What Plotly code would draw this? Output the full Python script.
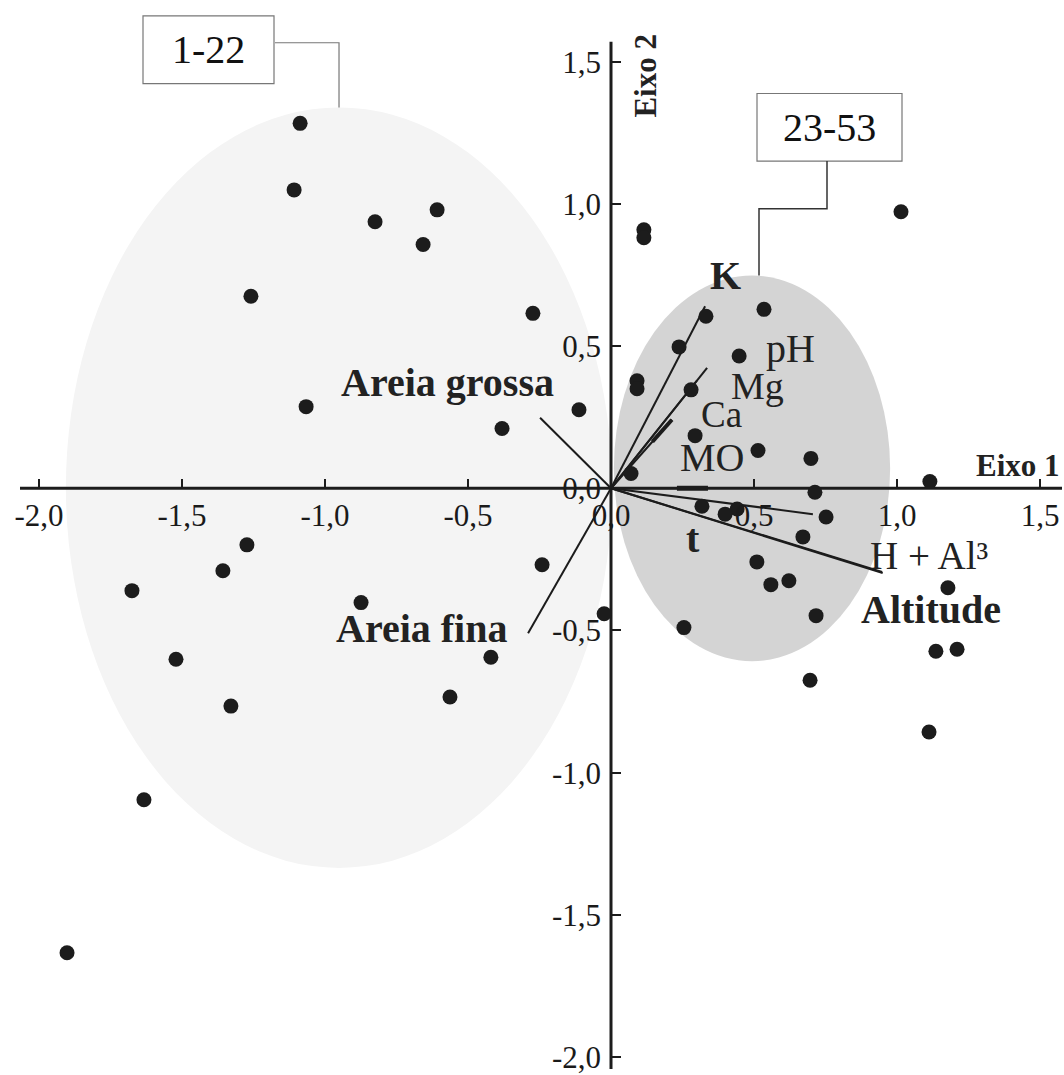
import plotly.graph_objects as go

# ---------------- data ----------------
# observations 1-22 (Eixo 1, Eixo 2)
g1_x = [-1.087, -1.108, -0.825, -0.608, -0.657, -1.259, -0.273, -1.066, -0.112, -0.381,
        -1.273, -1.357, -0.241, -1.675, -0.874, -0.024, -1.521, -0.420, -1.329, -0.563,
        -1.633, -1.902]
g1_y = [1.283, 1.049, 0.937, 0.979, 0.857, 0.675, 0.615, 0.287, 0.276, 0.210,
        -0.199, -0.290, -0.269, -0.360, -0.402, -0.441, -0.601, -0.594, -0.766, -0.734,
        -1.095, -1.633]
# observations 23-53
g2_x = [0.115, 0.115, 1.014, 0.332, 0.535, 0.238, 0.448, 0.091, 0.091, 0.280,
        0.294, 0.514, 0.699, 0.070, 1.115, 0.713, 0.318, 0.441, 0.399, 0.752,
        0.671, 0.510, 0.559, 0.622, 0.717, 0.255, 1.178, 1.136, 1.210, 0.696,
        1.112]
g2_y = [0.909, 0.881, 0.972, 0.605, 0.629, 0.497, 0.465, 0.378, 0.350, 0.346,
        0.185, 0.133, 0.105, 0.052, 0.024, -0.014, -0.063, -0.073, -0.091, -0.101,
        -0.171, -0.259, -0.339, -0.325, -0.448, -0.490, -0.350, -0.573, -0.566, -0.675,
        -0.857]

# environmental vectors
vec_names = ["K", "pH", "Mg", "Ca", "MO", "t", "H + Al³", "Altitude", "Areia grossa", "Areia fina"]
vec_x = [0.329, 0.300, 0.336, 0.213, 0.339, 0.706, 0.948, 0.950, -0.248, -0.290]
vec_y = [0.640, 0.378, 0.423, 0.241, 0.000, -0.091, -0.294, -0.298, 0.248, -0.510]
lab_x = [0.402, 0.626, 0.512, 0.388, 0.353, 0.287, 1.112, 1.119, -0.570, -0.664]
lab_y = [0.748, 0.490, 0.360, 0.258, 0.108, -0.175, -0.236, -0.428, 0.371, -0.493]
lab_bold = [True, False, False, False, False, True, False, True, True, True]
lab_size = [40, 40, 38, 37, 40, 40, 39, 40, 40, 40]

tick_vals = [-2.0, -1.5, -1.0, -0.5, 0.0, 0.5, 1.0, 1.5]
tick_text = ["-2,0", "-1,5", "-1,0", "-0,5", "0,0", "0,5", "1,0", "1,5"]

group_labels = ["1-22", "23-53"]
axis_titles = ["Eixo 1", "Eixo 2"]

# ---------------- layout helpers ----------------
W, H = 1064, 1075
OX, OY, S = 611.0, 491.0, 286.0   # pixel of origin, pixels per unit

def X(px):
    return (px - OX) / S

def Y(py):
    return (OY - py) / S

xr = [X(0), X(W)]
yr = [Y(H), Y(0)]

SERIF = "Liberation Serif, Times New Roman, serif"
INK = "#1c1c1c"

fig = go.Figure()

# vectors
for i, n in enumerate(vec_names):
    fig.add_trace(go.Scatter(x=[0, vec_x[i]], y=[0, vec_y[i]], mode="lines",
                             line=dict(color=INK, width=2), hoverinfo="skip",
                             showlegend=False))
# thicker tips for MO and Ca
for n, w in (("MO", 5), ("Ca", 4)):
    i = vec_names.index(n)
    fig.add_trace(go.Scatter(x=[0.68 * vec_x[i], vec_x[i]], y=[0.68 * vec_y[i], vec_y[i]],
                             mode="lines", line=dict(color=INK, width=w),
                             hoverinfo="skip", showlegend=False))

# observations
fig.add_trace(go.Scatter(x=g1_x, y=g1_y, mode="markers",
                         marker=dict(color=INK, size=15), showlegend=False))
fig.add_trace(go.Scatter(x=g2_x, y=g2_y, mode="markers",
                         marker=dict(color=INK, size=15), showlegend=False))

shapes = []
# group ellipses
e1 = dict(cx=-0.951, cy=0.002, rx=0.955, ry=1.337)
e2 = dict(cx=0.493, cy=0.070, rx=0.483, ry=0.678)
for e, col in ((e1, "#f4f4f4"), (e2, "#d4d4d4")):
    shapes.append(dict(type="circle", xref="x", yref="y", layer="below",
                       x0=e["cx"] - e["rx"], x1=e["cx"] + e["rx"],
                       y0=e["cy"] - e["ry"], y1=e["cy"] + e["ry"],
                       fillcolor=col, line=dict(width=0)))
# axis lines
shapes.append(dict(type="line", xref="x", yref="y", layer="below",
                   x0=X(20), x1=X(1062), y0=0, y1=0, line=dict(color=INK, width=3)))
shapes.append(dict(type="line", xref="x", yref="y", layer="below",
                   x0=0, x1=0, y0=Y(42), y1=Y(H), line=dict(color=INK, width=3)))
# callout boxes
shapes.append(dict(type="rect", xref="x", yref="y", x0=X(143), x1=X(274), y0=Y(84), y1=Y(16),
                   line=dict(color="#777777", width=1.2), fillcolor="white"))
shapes.append(dict(type="rect", xref="x", yref="y", x0=X(757), x1=X(902), y0=Y(162), y1=Y(94),
                   line=dict(color="#777777", width=1.2), fillcolor="white"))
# connector lines
top1 = e1["cy"] + e1["ry"]
shapes.append(dict(type="path", xref="x", yref="y",
                   path=f"M {X(275)} {Y(43)} L {e1['cx']} {Y(43)} L {e1['cx']} {top1}",
                   line=dict(color="#777777", width=1.2)))
shapes.append(dict(type="path", xref="x", yref="y",
                   path=f"M {X(827)} {Y(162)} L {X(827)} {Y(210)} L {X(759)} {Y(210)} L {X(759)} {Y(277)}",
                   line=dict(color="#333333", width=1.5)))

annotations = []
for i, n in enumerate(vec_names):
    txt = f"<b>{n}</b>" if lab_bold[i] else n
    annotations.append(dict(x=lab_x[i], y=lab_y[i], xref="x", yref="y", text=txt,
                            showarrow=False, xanchor="center", yanchor="middle",
                            font=dict(family=SERIF, size=lab_size[i], color="#222222")))
annotations.append(dict(x=X(208.5), y=Y(50), xref="x", yref="y", text=group_labels[0],
                        showarrow=False, font=dict(family=SERIF, size=40, color="#111111")))
annotations.append(dict(x=X(829.5), y=Y(128), xref="x", yref="y", text=group_labels[1],
                        showarrow=False, font=dict(family=SERIF, size=40, color="#111111")))
annotations.append(dict(x=X(1062), y=Y(468), xref="x", yref="y", text=f"<b>{axis_titles[0]}</b>",
                        xanchor="right", showarrow=False,
                        font=dict(family=SERIF, size=31, color="#222222")))
annotations.append(dict(x=X(646), y=Y(76), xref="x", yref="y", text=f"<b>{axis_titles[1]}</b>",
                        textangle=-90, showarrow=False,
                        font=dict(family=SERIF, size=31, color="#222222")))

tickfont = dict(family=SERIF, size=31, color="#1a1a1a")
common = dict(showgrid=False, zeroline=False, showline=False,
              tickmode="array", tickvals=tick_vals, ticktext=tick_text,
              ticks="inside", ticklen=9, tickwidth=1.5, tickcolor=INK,
              tickfont=tickfont, fixedrange=True, ticklabeloverflow="allow")
fig.update_layout(
    width=W, height=H, margin=dict(l=0, r=0, t=0, b=0),
    paper_bgcolor="white", plot_bgcolor="white",
    shapes=shapes, annotations=annotations, showlegend=False,
    xaxis=dict(range=xr, domain=[0, 1], anchor="free", position=(H - OY) / H,
               ticklabelstandoff=6, **common),
    yaxis=dict(range=yr, domain=[0, 1], anchor="free", position=OX / W,
               ticklabelstandoff=10, **common),
)

fig.write_html("out.html")
